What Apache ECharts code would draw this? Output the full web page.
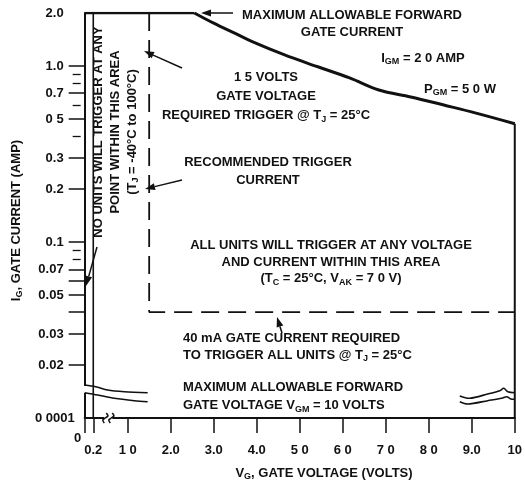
<!DOCTYPE html>
<html><head><meta charset="utf-8">
<script src="https://cdn.jsdelivr.net/npm/echarts@6/dist/echarts.min.js"></script>
<style>html,body{margin:0;padding:0;background:#fff}#c{width:525px;height:486px}</style>
</head><body><div id="c"></div>
<script>
// ---- axis ticks / labels ----
const xTickValues = [0, 0.2, 1, 2, 3, 4, 5, 6, 7, 8, 9, 10];
const xTickLabels = ['0', '0.2', '1 0', '2.0', '3.0', '4.0', '5 0', '6 0', '7 0', '8 0', '9.0', '10'];
const yLabelValues = [2, 1, 0.7, 0.5, 0.3, 0.2, 0.1, 0.07, 0.05, 0.03, 0.02, 0.01];
const yLabelTexts = ['2.0', '1.0', '0.7', '0 5', '0.3', '0.2', '0.1', '0.07', '0.05', '0.03', '0.02', '0 0001'];
const yMajorTicks = [1, 0.7, 0.5, 0.3, 0.2, 0.1, 0.07, 0.06, 0.05, 0.04, 0.03, 0.02];
const yMinorTicks = [0.9, 0.8, 0.6, 0.4, 0.09, 0.08];
// ---- boundaries (volts, amps) ----
const maxCurrentV = [0, 2.55, 3.0, 3.5, 3.91, 4.65, 5.42, 6.16, 6.84, 7.58, 8.35, 9.1, 10];
const maxCurrentI = [2.0, 2.0, 1.75, 1.53, 1.37, 1.155, 0.99, 0.855, 0.73, 0.667, 0.60, 0.54, 0.47];
const maxVoltageV = [10, 10];
const maxVoltageI = [0.47, 0.01];
const noTriggerV = [0.2, 0.2];
const noTriggerI = [2.0, 0.01];
const triggerAreaV = [1.5, 1.5, 10];
const triggerAreaI = [2.0, 0.04, 0.04];

const zip = (a, b) => a.map((v, i) => [v, b[i]]);
const FAM = '"Liberation Sans", Arial, sans-serif';
const FONT = 'bold 13px ' + FAM;
const INK = '#111';
const RICH = { s: { font: 'bold 9px ' + FAM, fill: INK, color: INK, verticalAlign: 'bottom', fontSize: 9, fontWeight: 'bold', fontFamily: FAM } };

function near(list, v) {
  let best = 0, bd = Infinity;
  list.forEach((x, i) => { const d = Math.abs(Math.log(x) - Math.log(v)); if (d < bd) { bd = d; best = i; } });
  return best;
}

function txt(x, y, text, align, lh, rot) {
  return { type: 'text', x: x, y: y, rotation: rot || 0, silent: true, z: 10,
    style: { text: text, font: FONT, fill: INK, align: align || 'center', verticalAlign: 'middle', lineHeight: lh || 17, rich: RICH } };
}
function arrow(x1, y1, x2, y2) {
  const dx = x2 - x1, dy = y2 - y1, L = Math.hypot(dx, dy), ux = dx / L, uy = dy / L, px = -uy, py = ux;
  const bx = x2 - ux * 10, by = y2 - uy * 10;
  return { type: 'group', silent: true, z: 10, children: [
    { type: 'line', shape: { x1: x1, y1: y1, x2: bx, y2: by }, style: { stroke: INK, lineWidth: 1.5 } },
    { type: 'polygon', shape: { points: [[x2, y2], [bx + px * 3.5, by + py * 3.5], [bx - px * 3.5, by - py * 3.5]] }, style: { fill: INK } }
  ] };
}

const maxCurrentPts = zip(maxCurrentV, maxCurrentI);

const chart = echarts.init(document.getElementById('c'), null, { renderer: 'canvas' });
chart.setOption({
  animation: false,
  backgroundColor: '#fff',
  grid: { left: 77, right: 5, top: 13, bottom: 68, containLabel: false },
  xAxis: {
    type: 'value', min: 0, max: 10,
    axisLine: { lineStyle: { color: INK, width: 2 } },
    axisTick: { show: true, customValues: xTickValues, length: 15, lineStyle: { color: INK, width: 1.5 } },
    axisLabel: {
      customValues: xTickValues, margin: 14, color: INK, fontFamily: FAM, fontWeight: 'bold', fontSize: 13,
      formatter: v => { const i = xTickValues.findIndex(t => Math.abs(t - v) < 1e-6); const s = i >= 0 ? xTickLabels[i] : ''; return v === 0 ? '{z|' + s + '}' : '{n|' + s + '}'; },
      rich: { n: { padding: [12, 0, 0, 0], fontFamily: FAM, fontWeight: 'bold', fontSize: 13, color: INK },
              z: { padding: [0, 14, 0, 0], fontFamily: FAM, fontWeight: 'bold', fontSize: 13, color: INK } }
    },
    splitLine: { show: false }
  },
  yAxis: [{
    type: 'log', logBase: 10, min: 0.01, max: 2, position: 'left',
    axisLine: { show: true, lineStyle: { color: INK, width: 2 } },
    axisTick: { show: true, customValues: yMajorTicks, length: 16, lineStyle: { color: INK, width: 1.5 } },
    minorTick: { show: false },
    axisLabel: {
      customValues: yLabelValues, margin: 10, color: INK, fontFamily: FAM, fontWeight: 'bold', fontSize: 13,
      formatter: v => { const i = near(yLabelValues, v); return i === yLabelValues.length - 1 ? '{b|' + yLabelTexts[i] + '}' : '{n|' + yLabelTexts[i] + '}'; },
      rich: { n: { padding: [0, 11, 0, 0], fontFamily: FAM, fontWeight: 'bold', fontSize: 13, color: INK },
              b: { fontFamily: FAM, fontWeight: 'bold', fontSize: 13, color: INK } }
    },
    splitLine: { show: false },
    name: 'I{s|G}, GATE CURRENT (AMP)', nameLocation: 'middle', nameRotate: 90, nameGap: 55,
    nameTextStyle: { fontFamily: FAM, fontWeight: 'bold', fontSize: 13, color: INK, lineHeight: 16, padding: [0, 10, 0, 0],
      rich: { s: { fontFamily: FAM, fontWeight: 'bold', fontSize: 9, color: INK, verticalAlign: 'bottom' } } }
  }, {
    type: 'log', logBase: 10, min: 0.01, max: 2, position: 'left', offset: 4,
    axisLine: { show: false },
    axisTick: { show: true, customValues: yMinorTicks, length: 8, lineStyle: { color: INK, width: 1.3 } },
    axisLabel: { show: false }, splitLine: { show: false }, minorTick: { show: false }
  }],
  series: [
    { name: 'Max gate current (IGM)', type: 'line', data: maxCurrentPts.slice(0, 2), symbol: 'none',
      lineStyle: { color: INK, width: 2.5 }, z: 3 },
    { name: 'Max gate power (PGM)', type: 'line', data: maxCurrentPts.slice(1), symbol: 'none', smooth: 0.35,
      lineStyle: { color: INK, width: 3 }, z: 3 },
    { name: 'Max gate voltage', type: 'line', data: zip(maxVoltageV, maxVoltageI), symbol: 'none',
      lineStyle: { color: INK, width: 2 }, z: 3 },
    { name: 'No trigger', type: 'line', data: zip(noTriggerV, noTriggerI), symbol: 'none',
      lineStyle: { color: INK, width: 1.6 }, z: 3 },
    { name: 'Trigger area', type: 'line', data: zip(triggerAreaV, triggerAreaI), symbol: 'none',
      lineStyle: { color: INK, width: 1.8, type: [18, 9] }, z: 3 },
    { name: 'Axis breaks', type: 'custom', clip: false, z: 5, silent: true, data: [0],
      renderItem: (params, api) => {
        const bl = api.coord([0, 0.01]), br = api.coord([10, 0.01]), xb = api.coord([0.55, 0.01]);
        const off = (o, pts) => pts.map(p => [o[0] + p[0], o[1] + p[1]]);
        const ls = { stroke: INK, lineWidth: 1.6, fill: null };
        const s = (x, y) => [[x - 1, y + 5], [x - 2.5, y + 2], [x, y], [x + 2.5, y - 2], [x + 1, y - 5]];
        return { type: 'group', children: [
          { type: 'rect', shape: { x: bl[0] - 3, y: bl[1] - 32, width: 6, height: 7 }, style: { fill: '#fff' } },
          { type: 'polyline', shape: { points: off(bl, [[0, -33], [11, -31.3], [23, -28], [39.7, -26.3], [63, -25.3]]), smooth: 0.3 }, style: ls },
          { type: 'polyline', shape: { points: off(bl, [[0, -25.3], [13, -23], [29.7, -19.7], [49.7, -17.3], [63, -16.3]]), smooth: 0.3 }, style: ls },
          { type: 'polyline', shape: { points: off(br, [[-55, -22], [-45, -19.7], [-27, -24], [-15, -27.3], [-11, -29.7], [-7, -26.3], [0, -25.3]]), smooth: 0.3 }, style: ls },
          { type: 'polyline', shape: { points: off(br, [[-55, -16.3], [-47, -14], [-27, -17.3], [-13, -19.7], [-8, -21.3], [-4, -19], [0, -18.7]]), smooth: 0.3 }, style: ls },
          { type: 'rect', shape: { x: xb[0] - 4, y: xb[1] - 2, width: 8, height: 4 }, style: { fill: '#fff' } },
          { type: 'polyline', shape: { points: s(xb[0] - 3, xb[1]), smooth: 0.4 }, style: ls },
          { type: 'polyline', shape: { points: s(xb[0] + 3, xb[1]), smooth: 0.4 }, style: ls }
        ] };
      } }
  ],
  graphic: [
    txt(352, 23.5, 'MAXIMUM ALLOWABLE FORWARD\nGATE CURRENT', 'center', 17),
    txt(423, 58, 'I{s|GM} = 2 0 AMP', 'center', 16),
    txt(460, 89, 'P{s|GM} = 5 0 W', 'center', 16),
    txt(266, 96, '1 5 VOLTS\nGATE VOLTAGE\nREQUIRED TRIGGER @ T{s|J} = 25°C', 'center', 19),
    txt(268, 171, 'RECOMMENDED TRIGGER\nCURRENT', 'center', 18),
    txt(331, 262, 'ALL UNITS WILL TRIGGER AT ANY VOLTAGE\nAND CURRENT WITHIN THIS AREA\n(T{s|C} = 25°C, V{s|AK} = 7 0 V)', 'center', 16.5),
    txt(183, 346.5, '40 mA GATE CURRENT REQUIRED\nTO TRIGGER ALL UNITS @ T{s|J} = 25°C', 'left', 17),
    txt(183, 396, 'MAXIMUM ALLOWABLE FORWARD\nGATE VOLTAGE V{s|GM} = 10 VOLTS', 'left', 18),
    txt(115, 132, 'NO UNITS WILL TRIGGER AT ANY\nPOINT WITHIN THIS AREA\n(T{s|J} = -40°C to 100°C)', 'center', 17, Math.PI / 2),
    txt(324, 473, 'V{s|G}, GATE VOLTAGE (VOLTS)', 'center', 16),
    arrow(233, 13, 201, 13),
    arrow(182, 68, 144, 51),
    arrow(182, 180, 145, 189),
    arrow(282, 333, 277, 317),
    arrow(97, 247, 86, 286)
  ]
});
</script></body></html>
